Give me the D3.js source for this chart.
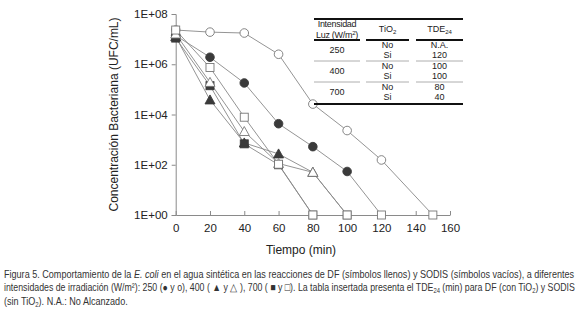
<!DOCTYPE html>
<html>
<head>
<meta charset="utf-8">
<script src="https://cdn.jsdelivr.net/npm/d3@7"></script>
<style>
  body { margin: 0; background: #fff; }
  svg { display: block; font-family: "Liberation Sans", Arial, sans-serif; }
</style>
</head>
<body>
<svg id="chart" width="580" height="312"></svg>
<script>
// Data (UFC/mL; 1 = below detection, drawn at 1E+00)
const xTicks = [0, 20, 40, 60, 80, 100, 120, 140, 160];
const yTicks = [1, 1e2, 1e4, 1e6, 1e8];

const sodis250 = { t: [0, 20, 40, 60, 80, 100, 120, 150], v: [2.3e7, 1.9e7, 1.75e7, 2.5e6, 2.6e4, 2.3e3, 155, 1] };
const df250    = { t: [0, 20, 40, 60, 80, 100, 120],      v: [1.4e7, 1.9e6, 1.8e5, 4.3e3, 525, 54, 1] };
const sodis400 = { t: [0, 20, 40, 60, 80, 100],           v: [1.6e7, 1.9e5, 2.1e3, 112, 50, 1] };
const df400    = { t: [0, 20, 40, 60, 80, 100],           v: [1.25e7, 3.8e4, 740, 270, 50, 1] };
const sodis700 = { t: [0, 20, 40, 60, 80],                v: [2.3e7, 7.4e5, 7.8e3, 105, 1] };
const df700    = { t: [0, 20, 40, 60, 80],                v: [1.1e7, 1.4e5, 680, 100, 1] };

// Inset table
const tableIntensity = ['250', '400', '700'];
const tableTiO2 = ['No', 'Si', 'No', 'Si', 'No', 'Si'];
const tableTDE = ['N.A.', '120', '100', '100', '80', '40'];

const series = [
  { d: df400, shape: 'triangle', filled: true },
  { d: df250, shape: 'circle', filled: true },
  { d: df700, shape: 'square', filled: true },
  { d: sodis250, shape: 'circle', filled: false },
  { d: sodis400, shape: 'triangle', filled: false },
  { d: sodis700, shape: 'square', filled: false }
];

const svg = d3.select('#chart');
const x = d3.scaleLinear().domain([0, 160]).range([175.7, 450]);
const y = d3.scaleLog().domain([1, 1e8]).range([215, 14]);

const axisColor = '#8a8a8a';
const textColor = '#222';

// Y axis
const yAxis = d3.axisLeft(y).tickValues(yTicks).tickSize(4).tickPadding(4)
  .tickFormat(d => '1E+' + String(Math.round(Math.log10(d))).padStart(2, '0'));
const gy = svg.append('g').attr('transform', `translate(${x(0)},0)`).call(yAxis);
gy.select('.domain').attr('stroke', axisColor);
gy.selectAll('.tick line').attr('stroke', axisColor);
gy.selectAll('.tick text').attr('fill', textColor).style('font-size', '11.5px');

// X axis (ticks pointing inward)
const xAxis = d3.axisBottom(x).tickValues(xTicks).tickSize(-4).tickPadding(9).tickSizeOuter(0);
const gx = svg.append('g').attr('transform', `translate(0,${y(1)})`).call(xAxis);
gx.select('.domain').attr('stroke', axisColor);
gx.selectAll('.tick line').attr('stroke', axisColor);
gx.selectAll('.tick text').attr('fill', textColor).style('font-size', '11.5px');

// Axis titles
svg.append('text')
  .attr('transform', `translate(118,${(y(1) + y(1e8)) / 2}) rotate(-90)`)
  .attr('text-anchor', 'middle')
  .attr('fill', textColor)
  .style('font-size', '12px')
  .text('Concentración Bacteriana (UFC/mL)');

svg.append('text')
  .attr('x', 301).attr('y', 254)
  .attr('text-anchor', 'middle')
  .attr('fill', textColor)
  .style('font-size', '12px')
  .text('Tiempo (min)');

// Lines
const line = d3.line().x(d => x(d[0])).y(d => y(d[1]));
series.forEach(s => {
  const pts = s.d.t.map((t, i) => [t, s.d.v[i]]);
  svg.append('path')
    .datum(pts)
    .attr('d', line)
    .attr('fill', 'none')
    .attr('stroke', '#888')
    .attr('stroke-width', 0.9);
});

// Markers
const markFill = '#3a3a3a';
function drawMarker(g, shape, filled, cx, cy) {
  const fill = filled ? markFill : '#fff';
  const stroke = filled ? markFill : '#777';
  if (shape === 'circle') {
    g.append('circle').attr('cx', cx).attr('cy', cy).attr('r', 4.3)
      .attr('fill', fill).attr('stroke', stroke).attr('stroke-width', 0.9);
  } else if (shape === 'square') {
    g.append('rect').attr('x', cx - 4).attr('y', cy - 4).attr('width', 8).attr('height', 8)
      .attr('fill', fill).attr('stroke', stroke).attr('stroke-width', 0.9);
  } else {
    g.append('path')
      .attr('d', `M${cx},${cy - 5}L${cx + 5},${cy + 4}L${cx - 5},${cy + 4}Z`)
      .attr('fill', fill).attr('stroke', stroke).attr('stroke-width', 0.9);
  }
}
const gm = svg.append('g');
series.forEach(s => {
  s.d.t.forEach((t, i) => {
    if (s.d.v[i] <= 1) return;
    drawMarker(gm, s.shape, s.filled, x(t), y(s.d.v[i]));
  });
});
// points below detection all show as open squares on the baseline
series.forEach(s => {
  s.d.t.forEach((t, i) => {
    if (s.d.v[i] <= 1) drawMarker(gm, 'square', false, x(t), y(1));
  });
});

// Inset table
const tb = svg.append('g').style('font-size', '9px').attr('fill', textColor);
const tL = 314, tR = 463;
const cols = [[314, 360], [366, 409], [416, 463]];
const colMid = cols.map(c => (c[0] + c[1]) / 2);

tb.append('line').attr('x1', tL).attr('x2', tR).attr('y1', 19).attr('y2', 19)
  .attr('stroke', '#111').attr('stroke-width', 1.8);
cols.forEach(c => {
  tb.append('line').attr('x1', c[0]).attr('x2', c[1]).attr('y1', 40).attr('y2', 40)
    .attr('stroke', '#111').attr('stroke-width', 1.8);
});
tb.append('line').attr('x1', tL).attr('x2', tR).attr('y1', 104).attr('y2', 104)
  .attr('stroke', '#111').attr('stroke-width', 1.8);
[61, 82].forEach(yy => {
  cols.forEach(c => {
    tb.append('line').attr('x1', c[0]).attr('x2', c[1]).attr('y1', yy).attr('y2', yy)
      .attr('stroke', '#999').attr('stroke-width', 0.8);
  });
});

tb.append('text').attr('x', colMid[0]).attr('y', 27).attr('text-anchor', 'middle')
  .style('letter-spacing', '-0.3px').text('Intensidad');
const luz = tb.append('text').attr('x', colMid[0]).attr('y', 37.5).attr('text-anchor', 'middle')
  .style('letter-spacing', '-0.3px');
luz.append('tspan').text('Luz (W/m');
luz.append('tspan').attr('dy', -3).style('font-size', '6px').text('2');
luz.append('tspan').attr('dy', 3).text(')');

const tio = tb.append('text').attr('x', colMid[1]).attr('y', 32).attr('text-anchor', 'middle');
tio.append('tspan').text('TiO');
tio.append('tspan').attr('dy', 2).style('font-size', '6px').text('2');

const tde = tb.append('text').attr('x', colMid[2]).attr('y', 32).attr('text-anchor', 'middle');
tde.append('tspan').text('TDE');
tde.append('tspan').attr('dy', 2).style('font-size', '6px').text('24');

const rowY = [47.5, 58, 68.5, 79, 89.5, 100];
tableIntensity.forEach((v, i) => {
  tb.append('text').attr('x', colMid[0]).attr('y', (rowY[2 * i] + rowY[2 * i + 1]) / 2)
    .attr('text-anchor', 'middle').text(v);
});
tableTiO2.forEach((v, i) => {
  tb.append('text').attr('x', colMid[1]).attr('y', rowY[i]).attr('text-anchor', 'middle').text(v);
});
tableTDE.forEach((v, i) => {
  tb.append('text').attr('x', colMid[2]).attr('y', rowY[i]).attr('text-anchor', 'middle').text(v);
});

// Caption: set in a narrow face, emulated by horizontal scaling
const cap = svg.append('g').style('font-size', '10.5px').attr('fill', '#333');
const l1 = cap.append('text');
l1.append('tspan').text('Figura 5. Comportamiento de la ');
l1.append('tspan').style('font-style', 'italic').text('E. coli');
l1.append('tspan').text(' en el agua sintética en las reacciones de DF (símbolos llenos) y SODIS (símbolos vacíos), a diferentes');

const l2 = cap.append('text');
l2.append('tspan').text('intensidades de irradiación (W/m²): 250 (● y o), 400 ( ▲  y △ ), 700 ( ■ y □). La tabla insertada presenta el TDE');
l2.append('tspan').attr('dy', 2).style('font-size', '7px').text('24');
l2.append('tspan').attr('dy', -2).text(' (min) para DF (con TiO');
l2.append('tspan').attr('dy', 2).style('font-size', '7px').text('2');
l2.append('tspan').attr('dy', -2).text(') y SODIS');

const l3 = cap.append('text');
l3.append('tspan').text('(sin TiO');
l3.append('tspan').attr('dy', 2).style('font-size', '7px').text('2');
l3.append('tspan').attr('dy', -2).text('). N.A.: No Alcanzado.');

const k1 = 571 / l1.node().getBBox().width;
const k2 = 571 / l2.node().getBBox().width;
l1.attr('transform', `translate(4,278) scale(${k1},1)`);
l2.attr('transform', `translate(4,291) scale(${k2},1)`);
l3.attr('transform', `translate(4,305) scale(${k1},1)`);
</script>
</body>
</html>
